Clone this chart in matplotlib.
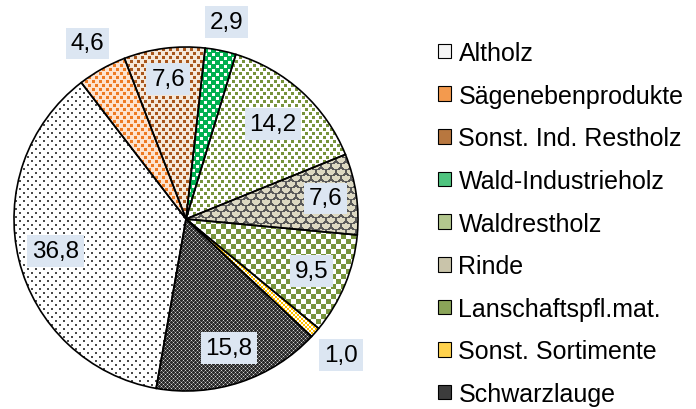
import numpy as np
import matplotlib
matplotlib.use("Agg")
import matplotlib.pyplot as plt
import matplotlib.colors as mcolors
from matplotlib.patches import Patch

plt.rcParams['font.family'] = ['Liberation Sans', 'DejaVu Sans']

categories = ["Altholz", "Sägenebenprodukte", "Sonst. Ind. Restholz",
              "Wald-Industrieholz", "Waldrestholz", "Rinde",
              "Lanschaftspfl.mat.", "Sonst. Sortimente", "Schwarzlauge"]
values = [36.8, 4.6, 7.6, 2.9, 14.2, 7.6, 9.5, 1.0, 15.8]

# label distance from centre (inside / outside the pie)
label_r = [0.78, 1.17, 0.82, 1.17, 0.75, 0.82, 0.79, 1.2, 0.79]

# legend swatch colours
legend_colors = ["#f4f4f4", "#f39a4e", "#b8773f", "#4fc47f", "#b3c78e",
                 "#c9c4aa", "#8aa458", "#ffd24d", "#3c3c3c"]

N = 350
LIM = 175 / 172
ii, jj = np.mgrid[0:N, 0:N]


def rgb(c):
    return np.array(mcolors.to_rgb(c))


def two_tone(mask, fg, bg):
    out = np.empty((N, N, 3))
    out[:] = rgb(bg)
    out[mask] = rgb(fg)
    return out


def staggered(px, py, sw, sh):
    shift = (ii // py % 2) * (px // 2)
    return (((jj + shift) % px) < sw) & ((ii % py) < sh)


def scales():
    shift = (ii // 6 % 2) * 5
    u = (jj + shift) % 10
    v = ii % 6
    d = np.sqrt(((u - 4.5) / 5.0) ** 2 + (v / 5.5) ** 2)
    return np.abs(d - 1.0) < 0.2


def schwarz():
    out = np.empty((N, N, 3))
    out[:] = rgb("#2a2a2a")
    out[(ii % 2 == 1) & (jj % 2 == 1)] = rgb("#6a6a6a")
    light = ((ii % 4 == 0) & (jj % 4 == 0)) | ((ii % 4 == 2) & (jj % 4 == 2))
    out[light] = rgb("#d0d0d0")
    return out


wald_ind = ((ii % 8 >= 1) & (ii % 8 <= 3) & (jj % 8 >= 1) & (jj % 8 <= 3)) | \
           ((ii % 8 >= 5) & (jj % 8 >= 5))

textures = [
    two_tone(staggered(8, 4, 2, 2), "#4a4a4a", "white"),
    two_tone(staggered(7, 4, 3, 3), "#ee7a22", "#fde3cf"),
    two_tone(staggered(7, 4, 3, 3), "#a8561c", "#f5e8da"),
    two_tone(wald_ind, "white", "#00b050"),
    two_tone(staggered(7, 4, 3, 3), "#77933c", "white"),
    two_tone(scales(), "#5a5a5a", "#ddd9c3"),
    two_tone(((ii // 5 + jj // 5) % 2 == 0), "#77933c", "white"),
    two_tone(((ii // 2 + jj // 2) % 2 == 0), "#ffc000", "white"),
    schwarz(),
]

fig = plt.figure(figsize=(6.96, 4.10), dpi=100)
ax = fig.add_axes([11 / 696, 15 / 410, 350 / 696, 350 / 410])

wedges, _ = ax.pie(values, startangle=-100, counterclock=False, radius=1,
                   colors=legend_colors, wedgeprops=dict(linewidth=0))
for w, tex in zip(wedges, textures):
    im = ax.imshow(tex, extent=(-LIM, LIM, -LIM, LIM), interpolation='nearest',
                   zorder=1.5)
    im.set_clip_path(w)

# outlines on top
ax.pie(values, startangle=-100, counterclock=False, radius=1,
       wedgeprops=dict(facecolor='none', edgecolor='black', linewidth=1.2,
                       zorder=3))

for w, v, r in zip(wedges, values, label_r):
    ang = np.deg2rad((w.theta1 + w.theta2) / 2)
    ax.text(r * np.cos(ang), r * np.sin(ang), f"{v:.1f}".replace('.', ','),
            ha='center', va='center', fontsize=17.5, color='black', zorder=5,
            bbox=dict(boxstyle='square,pad=0.2', facecolor='#dce6f2',
                      edgecolor='none'))

ax.set_xlim(-LIM, LIM)
ax.set_ylim(-LIM, LIM)
ax.set_aspect('equal')
ax.axis('off')

handles = [Patch(facecolor=c, edgecolor='black', linewidth=0.8)
           for c in legend_colors]
fig.legend(handles, categories, loc='upper left',
           bbox_to_anchor=(438 / 696, 1 - 42 / 410), frameon=False,
           fontsize=18, borderpad=0, borderaxespad=0,
           handlelength=0.52, handleheight=0.52, handletextpad=0.3,
           labelspacing=0.745)

fig.savefig("out.png", dpi=100)
